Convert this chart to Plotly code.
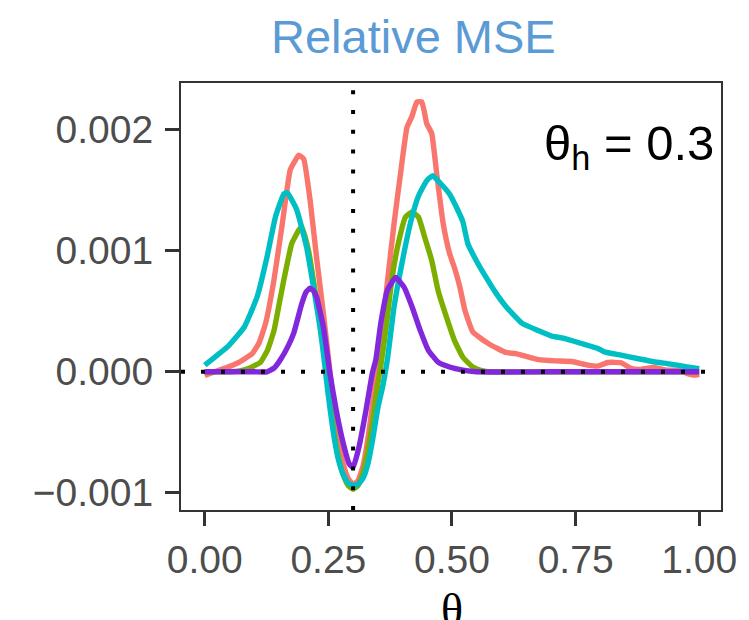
import plotly.graph_objects as go

# ---- data (values in units of 1e-3) ----
red_theta = [0.00, 0.02, 0.047, 0.07, 0.096, 0.11, 0.123, 0.14, 0.156, 0.173, 0.185, 0.19, 0.20, 0.213, 0.226, 0.24, 0.25,
             0.26, 0.27, 0.28, 0.29, 0.30, 0.31, 0.32, 0.33, 0.34, 0.35, 0.36, 0.369, 0.383, 0.396, 0.409, 0.419, 0.429,
             0.439, 0.449, 0.459, 0.469, 0.482, 0.495, 0.505, 0.516, 0.526, 0.542, 0.575, 0.609, 0.629, 0.675, 0.709,
             0.742, 0.775, 0.795, 0.815, 0.842, 0.862, 0.882, 0.908, 0.935, 0.962, 0.975, 0.988, 1.00]
red_vals = [-0.03, 0.00, 0.04, 0.08, 0.15, 0.24, 0.40, 0.76, 1.20, 1.67, 1.76, 1.79, 1.76, 1.42, 0.95, 0.48, 0.12,
            -0.25, -0.55, -0.76, -0.88, -0.93, -0.90, -0.78, -0.55, -0.25, 0.05, 0.38, 0.73, 1.23, 1.64, 2.02, 2.11, 2.23,
            2.23, 2.05, 1.97, 1.64, 1.23, 0.98, 0.86, 0.70, 0.51, 0.33, 0.23, 0.16, 0.15, 0.10, 0.09,
            0.085, 0.055, 0.047, 0.077, 0.075, 0.028, 0.02, 0.036, 0.014, 0.01, -0.013, -0.027, -0.02]

green_theta = [0.00, 0.05, 0.073, 0.09, 0.113, 0.127, 0.14, 0.15, 0.16, 0.176, 0.19, 0.196, 0.21, 0.226, 0.24, 0.25,
               0.26, 0.27, 0.28, 0.29, 0.30, 0.31, 0.32, 0.33, 0.34, 0.35, 0.356, 0.366, 0.379, 0.393, 0.406, 0.419,
               0.432, 0.445, 0.459, 0.472, 0.489, 0.505, 0.522, 0.542, 0.56, 0.58, 0.70, 0.85, 1.00]
green_vals = [0.00, 0.00, 0.01, 0.03, 0.08, 0.18, 0.34, 0.55, 0.76, 1.06, 1.17, 1.20, 1.00, 0.59, 0.21, -0.12,
              -0.45, -0.70, -0.85, -0.94, -0.97, -0.94, -0.84, -0.65, -0.40, -0.10, 0.05, 0.34, 0.78, 1.09, 1.28, 1.32,
              1.28, 1.11, 0.92, 0.67, 0.45, 0.26, 0.12, 0.04, 0.01, 0.00, 0.00, 0.00, 0.00]

cyan_theta = [0.00, 0.02, 0.047, 0.08, 0.106, 0.126, 0.143, 0.16, 0.167, 0.186, 0.206, 0.22, 0.233, 0.24, 0.25,
              0.26, 0.27, 0.28, 0.29, 0.30, 0.31, 0.32, 0.33, 0.34, 0.35, 0.36, 0.37, 0.383, 0.399, 0.416, 0.432,
              0.449, 0.461, 0.476, 0.495, 0.509, 0.522, 0.532, 0.549, 0.569, 0.589, 0.609, 0.642, 0.675, 0.702,
              0.729, 0.762, 0.795, 0.808, 0.842, 0.875, 0.908, 0.942, 0.975, 1.00]
cyan_vals = [0.055, 0.12, 0.21, 0.37, 0.62, 0.95, 1.28, 1.47, 1.48, 1.34, 1.03, 0.70, 0.37, 0.15, -0.20,
             -0.50, -0.72, -0.85, -0.92, -0.94, -0.93, -0.88, -0.76, -0.55, -0.30, -0.12, 0.12, 0.54, 0.90, 1.23, 1.45,
             1.58, 1.62, 1.56, 1.47, 1.36, 1.24, 1.06, 0.92, 0.78, 0.65, 0.54, 0.40, 0.34, 0.295,
             0.275, 0.234, 0.193, 0.165, 0.138, 0.11, 0.083, 0.064, 0.041, 0.025]

purple_theta = [0.00, 0.10, 0.126, 0.14, 0.153, 0.167, 0.18, 0.196, 0.205, 0.213, 0.22, 0.226, 0.24, 0.253, 0.266,
                0.28, 0.292, 0.30, 0.312, 0.326, 0.339, 0.346, 0.356, 0.369, 0.386, 0.403, 0.419, 0.436, 0.452,
                0.472, 0.495, 0.522, 0.549, 0.70, 0.85, 1.00]
purple_vals = [0.00, 0.00, 0.00, 0.03, 0.10, 0.20, 0.32, 0.56, 0.66, 0.69, 0.67, 0.62, 0.37, -0.01, -0.32,
               -0.59, -0.76, -0.79, -0.62, -0.32, -0.01, 0.10, 0.40, 0.67, 0.78, 0.70, 0.54, 0.34, 0.18,
               0.08, 0.04, 0.014, 0.00, 0.00, 0.00, 0.00]

series = [
    ("A", red_theta, red_vals, "#F8766D"),
    ("B", green_theta, green_vals, "#7CAE00"),
    ("C", cyan_theta, cyan_vals, "#00BFC4"),
    ("D", purple_theta, purple_vals, "#8228DC"),
]

x_ticks = [0, 0.25, 0.5, 0.75, 1.0]
x_ticktext = ["0.00", "0.25", "0.50", "0.75", "1.00"]
y_ticks = [-0.001, 0.0, 0.001, 0.002]
y_ticktext = ["\u22120.001", "0.000", "0.001", "0.002"]

theta_h = 0.3

fig = go.Figure()
for name, th, vals, col in series:
    fig.add_trace(go.Scatter(x=th, y=[v * 1e-3 for v in vals], mode="lines", name=name,
                             line=dict(color=col, width=5.4, shape="spline", smoothing=0.4),
                             showlegend=False))

# reference lines
fig.add_shape(type="line", xref="x", yref="paper", x0=theta_h, x1=theta_h, y0=0, y1=1,
              line=dict(color="black", width=4, dash="4px,15.8px"))
fig.add_shape(type="line", xref="paper", yref="y", x0=0, x1=1, y0=0, y1=0,
              line=dict(color="black", width=4, dash="4px,16px"))

font = "Liberation Sans, Arial, Helvetica, sans-serif"
fig.update_layout(
    width=749, height=620,
    margin=dict(l=181, r=21, t=83, b=110),
    plot_bgcolor="white", paper_bgcolor="white",
    xaxis=dict(range=[-0.048, 1.044], tickvals=x_ticks, ticktext=x_ticktext,
               showgrid=False, zeroline=False, showline=True, mirror=True,
               linecolor="#333333", linewidth=2, ticks="outside", ticklen=14, tickwidth=3,
               tickcolor="#333333", tickfont=dict(family=font, size=39, color="#4D4D4D")),
    yaxis=dict(range=[-0.001142, 0.0023865], tickvals=y_ticks, ticktext=y_ticktext,
               showgrid=False, zeroline=False, showline=True, mirror=True,
               linecolor="#333333", linewidth=2, ticks="outside", ticklen=14, tickwidth=3,
               tickcolor="#333333", tickfont=dict(family=font, size=39, color="#4D4D4D"),
               ticklabelstandoff=4),
    annotations=[
        dict(text="Relative MSE", xref="paper", yref="paper", x=0.4314, y=1.108,
             xanchor="center", yanchor="middle", showarrow=False,
             font=dict(family=font, size=47, color="#5B9BD5")),
        dict(text="\u03b8<sub>h</sub> = 0.3", xref="x", yref="y", x=1.034, y=0.00213,
             xanchor="right", yanchor="top", showarrow=False,
             font=dict(family=font, size=49, color="black")),
        dict(text="\u03b8", xref="x", yref="paper", x=0.5, y=-0.17,
             xanchor="center", yanchor="top", showarrow=False,
             font=dict(family="Liberation Serif, Times New Roman, serif", size=46, color="black")),
    ],
)

fig.write_html("out.html")
